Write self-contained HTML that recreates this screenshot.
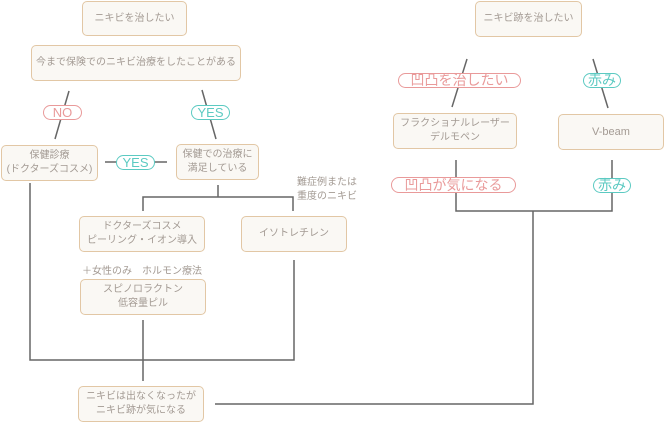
<!DOCTYPE html>
<html><head><meta charset="utf-8"><style>
body{margin:0;width:665px;height:423px;background:#fff;position:relative;overflow:hidden;font-family:"Liberation Sans","Noto Sans CJK JP",sans-serif;}
.b{position:absolute;box-sizing:border-box;border:1px solid #e2c7a5;border-radius:5px;background:#faf8f4;color:#a39a93;font-size:10px;display:flex;align-items:center;justify-content:center;text-align:center;line-height:14px;}
.p{position:absolute;box-sizing:border-box;border:1px solid;border-radius:8px;background:#fff;display:flex;align-items:center;justify-content:center;font-size:13px;line-height:13px;white-space:nowrap;}
.j{font-size:14px;}
.pk{border-color:#e99a9a;color:#e99a9a}
.tl{border-color:#5ccac2;color:#5ccac2}
.t{position:absolute;color:#a39a93;font-size:10px;line-height:14px;}
svg{position:absolute;left:0;top:0}
</style></head><body>
<svg width="665" height="423">
<g stroke="#666" stroke-width="1.5" fill="none">
<line x1="69" y1="91" x2="55" y2="139"/>
<line x1="202" y1="90" x2="216" y2="139"/>
<line x1="105" y1="162" x2="167" y2="162"/>
<polyline points="218,185 218,197"/>
<polyline points="143,211 143,197 293,197 293,211"/>
<polyline points="30,183 30,360 294,360 294,260"/>
<line x1="143" y1="320" x2="143" y2="381"/>
<polyline points="215,404 533,404 533,211"/>
<line x1="467" y1="59" x2="452" y2="107"/>
<line x1="593" y1="59" x2="608" y2="108"/>
<polyline points="456,160 456,211 612,211 612,160"/>
</g></svg>
<div class="b" style="left:82px;top:1px;width:105px;height:35px">ニキビを治したい</div>
<div class="b" style="left:31px;top:45px;width:210px;height:36px">今まで保険でのニキビ治療をしたことがある</div>
<div class="p pk" style="left:43px;top:105px;width:39px;height:15px">NO</div>
<div class="p tl" style="left:191px;top:105px;width:39px;height:15px">YES</div>
<div class="b" style="left:1px;top:145px;width:97px;height:36px">保健診療<br>(ドクターズコスメ)</div>
<div class="p tl" style="left:116px;top:155px;width:39px;height:15px">YES</div>
<div class="b" style="left:176px;top:144px;width:83px;height:36px">保健での治療に<br>満足している</div>
<div class="t" style="left:297px;top:176px">難症例または<br>重度のニキビ</div>
<div class="b" style="left:79px;top:216px;width:126px;height:36px">ドクターズコスメ<br>ピーリング・イオン導入</div>
<div class="b" style="left:241px;top:216px;width:106px;height:36px">イソトレチレン</div>
<div class="t" style="left:82px;top:265px">＋女性のみ　ホルモン療法</div>
<div class="b" style="left:80px;top:279px;width:126px;height:36px">スピノロラクトン<br>低容量ピル</div>
<div class="b" style="left:78px;top:386px;width:126px;height:36px">ニキビは出なくなったが<br>ニキビ跡が気になる</div>
<div class="b" style="left:475px;top:1px;width:107px;height:36px">ニキビ跡を治したい</div>
<div class="p pk j" style="left:398px;top:73px;width:123px;height:15px">凹凸を治したい</div>
<div class="p tl j" style="left:583px;top:73px;width:38px;height:15px">赤み</div>
<div class="b" style="left:393px;top:113px;width:124px;height:36px">フラクショナルレーザー<br>デルモペン</div>
<div class="b" style="left:558px;top:114px;width:106px;height:36px;font-size:11px">V-beam</div>
<div class="p pk j" style="left:391px;top:177px;width:125px;height:16px">凹凸が気になる</div>
<div class="p tl j" style="left:593px;top:178px;width:38px;height:15px">赤み</div>
</body></html>
